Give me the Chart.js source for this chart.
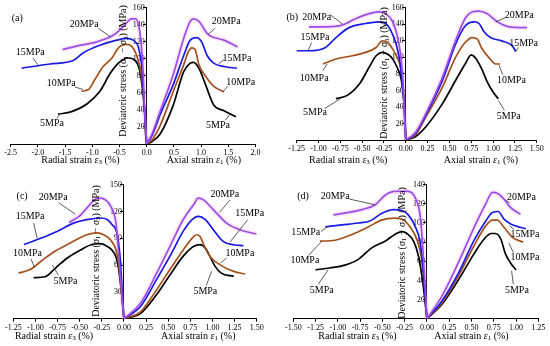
<!DOCTYPE html>
<html>
<head>
<meta charset="utf-8">
<script src="https://cdn.jsdelivr.net/npm/chart.js@4.4.1/dist/chart.umd.min.js"></script>
<style>
body { margin: 0; background: #fff; }
#wrap { position: relative; width: 550px; height: 346px; }
.painel { position: absolute; width: 275px; height: 173px; }
</style>
</head>
<body>
<div id="wrap">
  <div class="painel" style="left:0;top:0"><canvas id="gA" width="275" height="173"></canvas></div>
  <div class="painel" style="left:275px;top:0"><canvas id="gB" width="275" height="173"></canvas></div>
  <div class="painel" style="left:0;top:173px"><canvas id="gC" width="275" height="173"></canvas></div>
  <div class="painel" style="left:275px;top:173px"><canvas id="gD" width="275" height="173"></canvas></div>
</div>
<script>
const pressoes = ['5MPa', '10MPa', '15MPa', '20MPa'];
const cores = ['#000000', '#a5501c', '#1a1ae0', '#9a4ee8'];

// (a) [strain %, stress MPa]
const aR5 = [[-1.63,35],[-1.38,38],[-1.10,47],[-0.86,62],[-0.67,83],[-0.52,95],[-0.34,101],[-0.21,98],[-0.13,87],[-0.08,66],[-0.04,39],[-0.02,12],[0,0]];
const aR10 = [[-1.20,62],[-1.07,64],[-0.95,76],[-0.80,91],[-0.64,101],[-0.52,113],[-0.37,117],[-0.28,115],[-0.18,103],[-0.09,78],[-0.04,43],[0,0]];
const aR15 = [[-2.30,89],[-1.78,94],[-1.35,98],[-1.17,107],[-0.86,116],[-0.55,122],[-0.37,124],[-0.25,122],[-0.15,113],[-0.09,90],[-0.05,51],[0,0]];
const aR20 = [[-1.55,111],[-1.29,115],[-0.92,120],[-0.61,128],[-0.43,138],[-0.28,147],[-0.20,147],[-0.12,128],[-0.07,90],[-0.04,43],[0,0]];
const aA5 = [[0,0],[0.10,3],[0.25,12],[0.49,46],[0.68,85],[0.80,95],[0.86,96],[0.96,89],[1.08,70],[1.23,46],[1.42,39],[1.64,32]];
const aA10 = [[0,0],[0.10,5],[0.25,22],[0.49,62],[0.68,93],[0.77,109],[0.83,113],[0.89,111],[0.96,93],[1.08,80],[1.23,68],[1.42,61]];
const aA15 = [[0,0],[0.10,10],[0.25,35],[0.49,70],[0.68,104],[0.80,122],[0.92,125],[1.01,120],[1.11,104],[1.23,95],[1.42,91],[1.66,89]];
const aA20 = [[0,0],[0.10,12],[0.25,39],[0.49,82],[0.68,124],[0.80,144],[0.86,147],[0.96,144],[1.11,130],[1.20,126],[1.42,122],[1.67,114]];

// (b)
const bR5 = [[-0.80,50],[-0.67,54],[-0.53,68],[-0.42,88],[-0.34,102],[-0.27,106],[-0.21,104],[-0.15,98],[-0.10,88],[-0.05,72],[-0.02,44],[0,0]];
const bR10 = [[-0.95,92],[-0.80,98],[-0.61,102],[-0.46,106],[-0.34,112],[-0.27,120],[-0.21,118],[-0.15,110],[-0.10,100],[-0.06,88],[-0.03,64],[-0.01,28],[0,0]];
const bR15 = [[-1.28,108],[-1.11,108],[-0.92,112],[-0.80,124],[-0.65,136],[-0.46,141],[-0.31,143],[-0.23,141],[-0.17,132],[-0.11,116],[-0.07,96],[-0.04,68],[-0.01,28],[0,0]];
const bR20 = [[-1.11,137],[-0.92,137],[-0.73,139],[-0.57,147],[-0.42,153],[-0.31,155],[-0.23,153],[-0.15,143],[-0.10,127],[-0.06,104],[-0.03,68],[-0.015,28],[0,0]];
const bA5 = [[0,0],[0.11,4],[0.23,16],[0.42,44],[0.57,72],[0.68,92],[0.75,103],[0.80,99],[0.87,86],[0.93,71],[1.00,58],[1.06,50]];
const bA10 = [[0,0],[0.11,6],[0.23,28],[0.42,64],[0.57,100],[0.68,118],[0.76,124],[0.82,122],[0.87,111],[0.95,100],[1.03,92],[1.08,92]];
const bA15 = [[0,0],[0.11,8],[0.23,30],[0.42,72],[0.57,116],[0.68,138],[0.78,143],[0.84,141],[0.89,132],[0.97,124],[1.10,120],[1.22,114],[1.26,107]];
const bA20 = [[0,0],[0.11,9],[0.23,32],[0.42,76],[0.57,120],[0.68,147],[0.76,155],[0.84,156],[0.93,153],[1.05,143],[1.18,137],[1.39,136]];

// (c)
const cR5 = [[-1.02,46],[-0.89,47],[-0.77,57],[-0.64,68],[-0.49,77],[-0.34,83.6],[-0.26,84],[-0.19,81],[-0.11,73.5],[-0.07,62],[-0.03,32],[0,0]];
const cR10 = [[-1.19,51],[-1.06,55],[-0.94,64],[-0.79,75],[-0.60,85],[-0.42,94],[-0.30,96],[-0.23,94],[-0.15,88],[-0.09,77],[-0.06,62],[-0.03,32],[0,0]];
const cR15 = [[-1.13,83],[-0.94,90],[-0.75,98],[-0.57,107],[-0.42,111],[-0.26,112.7],[-0.19,111],[-0.13,105],[-0.08,96],[-0.045,70],[-0.02,32],[0,0]];
const cR20 = [[-0.62,107.5],[-0.49,116],[-0.40,126],[-0.32,134],[-0.26,135],[-0.21,133],[-0.15,126],[-0.09,107],[-0.06,73.5],[-0.03,36],[0,0]];
const cA5 = [[0,0],[0.19,6],[0.37,27],[0.52,49],[0.67,70],[0.79,81],[0.86,83],[0.92,79],[0.97,70],[1.03,58.6],[1.10,51],[1.24,47.4]];
const cA10 = [[0,0],[0.19,8],[0.37,32.5],[0.52,55],[0.67,77],[0.77,90],[0.82,94],[0.86,92],[0.91,81],[0.97,70],[1.09,60],[1.24,53],[1.37,50]];
const cA15 = [[0,0],[0.19,14],[0.37,44],[0.52,70],[0.67,98],[0.77,111],[0.84,114.6],[0.92,111],[1.01,99.6],[1.12,86.6],[1.24,82.8],[1.35,81.7]];
const cA20 = [[0,0],[0.19,17.5],[0.37,51],[0.52,81],[0.67,111],[0.79,128],[0.84,135],[0.90,133],[1.01,122],[1.16,107],[1.31,99.6],[1.50,94.8]];

// (d)
const dR5 = [[-1.25,51],[-1.09,53],[-0.92,56],[-0.77,62],[-0.62,74],[-0.47,81],[-0.36,88],[-0.28,91],[-0.225,89],[-0.15,81],[-0.094,65],[-0.045,37],[0,0]];
const dR10 = [[-1.20,81],[-1.03,82],[-0.84,88],[-0.655,96],[-0.51,103],[-0.36,105],[-0.26,103],[-0.19,96],[-0.11,82],[-0.064,65],[-0.03,37],[0,0]];
const dR15 = [[-1.14,96],[-0.955,98],[-0.77,100],[-0.64,102],[-0.51,110],[-0.375,114],[-0.28,113],[-0.21,108.5],[-0.13,96],[-0.075,79],[-0.04,48],[0,0]];
const dR20 = [[-1.05,108.5],[-0.88,111],[-0.73,114],[-0.58,119],[-0.47,129],[-0.36,133],[-0.21,133],[-0.13,126],[-0.075,107],[-0.045,72],[-0.02,34],[0,0]];
const dA5 = [[0,0],[0.165,14.5],[0.35,40],[0.53,68],[0.64,83],[0.72,89],[0.77,89],[0.83,83],[0.88,68],[0.94,58],[1.0,51]];
const dA10 = [[0,0],[0.165,16],[0.35,44],[0.53,76.5],[0.66,97],[0.735,103],[0.79,103],[0.865,95.5],[0.96,85],[1.08,80]];
const dA15 = [[0,0],[0.165,18],[0.35,47],[0.53,82],[0.66,102],[0.735,111],[0.80,112],[0.865,104],[0.94,99],[1.05,95.5],[1.11,94]];
const dA20 = [[0,0],[0.165,23],[0.35,58],[0.53,95.5],[0.66,120],[0.735,132],[0.79,131],[0.865,125],[0.94,116],[1.05,109]];

const SERIF = '"Liberation Serif", "Times New Roman", serif';

function pontos(arr) {
    return arr.map(p => ({ x: p[0], y: p[1] }));
}

// desenha texto com pedaços (itálico, subscrito) centrado em cx
function textoRico(ctx, partes, cx, cy) {
    let largura = 0;
    partes.forEach(p => { ctx.font = p.f; largura += ctx.measureText(p.t).width; });
    let x = cx - largura / 2;
    ctx.textAlign = 'left';
    ctx.textBaseline = 'middle';
    partes.forEach(p => {
        ctx.font = p.f;
        ctx.fillText(p.t, x, cy + (p.dy || 0));
        x += ctx.measureText(p.t).width;
    });
}

const normal = '10px ' + SERIF;
const italico = 'italic 10px ' + SERIF;
const sub = '7px ' + SERIF;

const notasPlugin = {
    id: 'notas',
    afterDatasetsDraw(chart, args, opts) {
        const { ctx, scales: { x, y } } = chart;
        ctx.save();
        ctx.fillStyle = '#000';
        ctx.strokeStyle = '#333';
        ctx.lineWidth = 0.8;
        opts.lista.forEach(n => {
            if (n.linha) {
                ctx.beginPath();
                ctx.moveTo(x.getPixelForValue(n.linha[0]), y.getPixelForValue(n.linha[1]));
                ctx.lineTo(x.getPixelForValue(n.linha[2]), y.getPixelForValue(n.linha[3]));
                ctx.stroke();
            }
            ctx.font = normal;
            ctx.textAlign = 'center';
            ctx.textBaseline = 'middle';
            ctx.fillText(n.t, x.getPixelForValue(n.x), y.getPixelForValue(n.y));
        });

        const t = opts.titulos;
        textoRico(ctx, [
            { t: 'Radial strain ', f: normal }, { t: 'ε', f: italico }, { t: '3', f: sub, dy: 2.5 }, { t: ' (%)', f: normal }
        ], x.getPixelForValue(t.rx), t.ty);
        textoRico(ctx, [
            { t: 'Axial strain ', f: normal }, { t: 'ε', f: italico }, { t: '1', f: sub, dy: 2.5 }, { t: ' (%)', f: normal }
        ], x.getPixelForValue(t.ax), t.ty);

        ctx.translate(x.getPixelForValue(0) + t.dx, t.cy);
        ctx.rotate(-Math.PI / 2);
        textoRico(ctx, [
            { t: 'Deviatoric stress (', f: normal }, { t: 'σ', f: italico }, { t: '1', f: sub, dy: 2.5 },
            { t: ' − ', f: normal }, { t: 'σ', f: italico }, { t: '3', f: sub, dy: 2.5 }, { t: ') (MPa)', f: normal }
        ], 0, 0);
        ctx.restore();
    }
};

function montarPainel(id, radial, axial, eixo, notas, titulos) {
    const datasets = [];
    // brilho rosado em volta da curva de 20MPa
    [radial[3], axial[3]].forEach(c => {
        datasets.push({ data: pontos(c), borderColor: 'rgba(255,130,230,0.18)', borderWidth: 5, order: 5 });
    });
    for (let i = 0; i < 4; i++) {
        datasets.push({ label: pressoes[i], data: pontos(radial[i]), borderColor: cores[i], order: 4 - i });
        datasets.push({ label: pressoes[i], data: pontos(axial[i]), borderColor: cores[i], order: 4 - i });
    }

    new Chart(document.getElementById(id), {
        type: 'line',
        data: { datasets: datasets },
        options: {
            responsive: false,
            animation: false,
            layout: { padding: eixo.padding },
            elements: {
                point: { radius: 0 },
                line: { borderWidth: 1.7, cubicInterpolationMode: 'monotone', fill: false }
            },
            plugins: {
                legend: { display: false },
                tooltip: { enabled: false },
                notas: { lista: notas, titulos: titulos }
            },
            scales: {
                x: {
                    type: 'linear',
                    min: eixo.min,
                    max: eixo.max,
                    afterFit(s) { s.height = 13; },
                    ticks: {
                        stepSize: eixo.step,
                        autoSkip: false,
                        maxRotation: 0,
                        padding: 1,
                        color: '#000',
                        font: { family: SERIF, size: 8 },
                        callback: v => Number(v).toFixed(eixo.dec)
                    },
                    grid: { drawOnChartArea: false, tickLength: 3, color: '#000' },
                    border: { color: '#000', width: 1 }
                },
                y: {
                    type: 'linear',
                    position: { x: 0 },
                    min: 0,
                    max: eixo.ymax,
                    ticks: {
                        stepSize: eixo.ystep,
                        color: '#000',
                        font: { family: SERIF, size: 8 },
                        callback: v => (v === 0 ? '' : v + ' ')
                    },
                    grid: { drawOnChartArea: false, tickLength: 3, color: '#000' },
                    border: { color: '#000', width: 1 }
                }
            }
        },
        plugins: [notasPlugin]
    });
}

montarPainel('gA', [aR5, aR10, aR15, aR20], [aA5, aA10, aA15, aA20],
    { min: -2.5, max: 2.0, step: 0.5, dec: 1, ymax: 160, ystep: 20, padding: { left: 10.7, right: 19.5, top: 5, bottom: 16 } },
    [
        { t: '(a)', x: -2.38, y: 147 },
        { t: '20MPa', x: -1.15, y: 141, linha: [-0.89, 136, -0.67, 126] },
        { t: '15MPa', x: -2.14, y: 108, linha: [-2.09, 101, -2.0, 93] },
        { t: '10MPa', x: -1.57, y: 71, linha: [-1.32, 67, -1.17, 64] },
        { t: '5MPa', x: -1.74, y: 24, linha: [-1.65, 30, -1.60, 35] },
        { t: '20MPa', x: 1.46, y: 144, linha: [1.26, 136, 1.13, 129] },
        { t: '15MPa', x: 1.66, y: 101, linha: [1.42, 99, 1.32, 94] },
        { t: '10MPa', x: 1.73, y: 72, linha: [1.49, 68, 1.41, 62] },
        { t: '5MPa', x: 1.31, y: 22, linha: [1.45, 28, 1.53, 35] }
    ],
    { rx: -1.22, ax: 1.05, ty: 160, dx: -23, cy: 71 });

montarPainel('gB', [bR5, bR10, bR15, bR20], [bA5, bA10, bA15, bA20],
    { min: -1.25, max: 1.5, step: 0.25, dec: 2, ymax: 160, ystep: 20, padding: { left: 21.7, right: 13.3, top: 6, bottom: 20 } },
    [
        { t: '(b)', x: -1.30, y: 149 },
        { t: '20MPa', x: -1.02, y: 149, linha: [-0.87, 152, -0.72, 140] },
        { t: '15MPa', x: -1.04, y: 124, linha: [-1.08, 118, -1.12, 108] },
        { t: '10MPa', x: -1.05, y: 74, linha: [-0.95, 84, -0.90, 92] },
        { t: '5MPa', x: -1.04, y: 34, linha: [-0.93, 38, -0.75, 50] },
        { t: '20MPa', x: 1.30, y: 151, linha: [1.14, 148, 1.03, 143] },
        { t: '15MPa', x: 1.35, y: 117, linha: [1.29, 112, 1.26, 107] },
        { t: '10MPa', x: 1.21, y: 72, linha: [1.11, 79, 1.07, 90] },
        { t: '5MPa', x: 1.18, y: 28, linha: [1.13, 36, 1.06, 48] }
    ],
    { rx: -0.66, ax: 0.86, ty: 160, dx: -21, cy: 73 });

montarPainel('gC', [cR5, cR10, cR15, cR20], [cA5, cA10, cA15, cA20],
    { min: -1.25, max: 1.5, step: 0.25, dec: 2, ymax: 150, ystep: 30, padding: { left: 13.3, right: 18.3, top: 11.7, bottom: 14.3 } },
    [
        { t: '(c)', x: -1.15, y: 137 },
        { t: '20MPa', x: -0.80, y: 136, linha: [-0.74, 130, -0.55, 117] },
        { t: '15MPa', x: -1.06, y: 114.5, linha: [-1.02, 107, -0.98, 90] },
        { t: '10MPa', x: -1.09, y: 73.5, linha: [-1.05, 67, -1.01, 57] },
        { t: '5MPa', x: -0.66, y: 42, linha: [-0.74, 49, -0.81, 60] },
        { t: '20MPa', x: 1.14, y: 139, linha: [1.20, 133, 1.08, 119] },
        { t: '15MPa', x: 1.42, y: 118, linha: [1.40, 111, 1.20, 86] },
        { t: '10MPa', x: 1.31, y: 73.5, linha: [1.16, 68, 1.09, 62] },
        { t: '5MPa', x: 0.92, y: 30.6, linha: [0.93, 37, 0.99, 53] }
    ],
    { rx: -0.79, ax: 0.84, ty: 163, dx: -28, cy: 78 });

montarPainel('gD', [dR5, dR10, dR15, dR20], [dA5, dA10, dA15, dA20],
    { min: -1.5, max: 1.25, step: 0.25, dec: 2, ymax: 140, ystep: 20, padding: { left: 18.3, right: 11.7, top: 11.7, bottom: 14.3 } },
    [
        { t: '(d)', x: -1.39, y: 128 },
        { t: '20MPa', x: -1.03, y: 128, linha: [-0.87, 125, -0.58, 119] },
        { t: '15MPa', x: -1.36, y: 90, linha: [-1.19, 91, -1.12, 96] },
        { t: '10MPa', x: -1.37, y: 61, linha: [-1.33, 66, -1.19, 80] },
        { t: '5MPa', x: -1.18, y: 30, linha: [-1.22, 36, -1.11, 51] },
        { t: '20MPa', x: 1.06, y: 127, linha: [0.93, 121, 0.88, 124] },
        { t: '15MPa', x: 1.10, y: 87.7, linha: [0.98, 93, 0.93, 97] },
        { t: '10MPa', x: 1.10, y: 64, linha: [0.97, 69, 0.92, 79] },
        { t: '5MPa', x: 1.01, y: 30, linha: [0.97, 36, 0.95, 50] }
    ],
    { rx: -0.78, ax: 0.50, ty: 163, dx: -25, cy: 80 });
</script>
</body>
</html>
